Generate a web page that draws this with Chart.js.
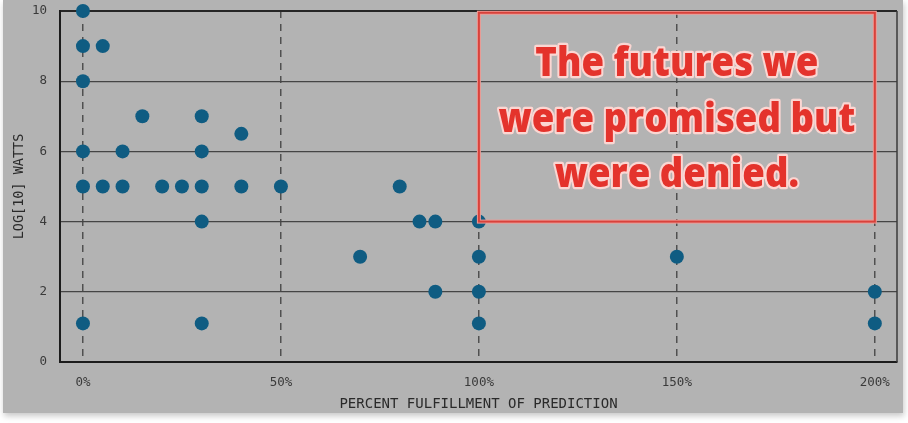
<!DOCTYPE html>
<html lang="en">
<head>
    <meta charset="UTF-8">
    <title>Percent fulfillment of prediction</title>
    <script src="https://cdn.jsdelivr.net/npm/chart.js"></script>
    <style>
        body {
            margin: 0;
            padding: 0;
            background-color: #ffffff;
        }

        .card {
            position: absolute;
            left: 3px;
            top: 0;
            width: 900px;
            height: 413px;
            background-color: #b3b3b3;
            box-shadow: 1px 3px 6px rgba(0, 0, 0, 0.22);
        }
    </style>
</head>
<body>
    <div class="card">
        <canvas id="futuresChart"></canvas>
    </div>
    <script>
        // data
        const pctFulfilled = [0, 0, 0, 0, 0, 0, 5, 5, 10, 10, 15, 20, 25, 30, 30, 30, 30, 30, 40, 40, 50, 70, 80, 85, 89, 89, 100, 100, 100, 100, 150, 200, 200];
        const log10Watts   = [10, 9, 8, 6, 5, 1.1, 9, 5, 6, 5, 7, 5, 5, 7, 6, 5, 4, 1.1, 6.5, 5, 5, 3, 5, 4, 4, 2, 4, 3, 2, 1.1, 3, 2, 1.1];

        const xTickValues = [0, 50, 100, 150, 200];
        const yTickValues = [0, 2, 4, 6, 8, 10];

        const noteLines = ['The futures we', 'were promised but', 'were denied.'];
        const noteBoxX = [100, 200];
        const noteBoxY = [4, 9.95];

        const monoFont = '"DejaVu Sans Mono", "Liberation Mono", monospace';

        // right edge of the plot frame
        const framePlugin = {
            id: 'frame',
            beforeDatasetsDraw(chart) {
                const { ctx, chartArea } = chart;
                ctx.save();
                ctx.strokeStyle = '#3a3a3a';
                ctx.lineWidth = 1.5;
                ctx.beginPath();
                ctx.moveTo(chartArea.right, chartArea.top);
                ctx.lineTo(chartArea.right, chartArea.bottom);
                ctx.stroke();
                ctx.restore();
            }
        };

        // the red box with its caption
        const notePlugin = {
            id: 'note',
            afterDatasetsDraw(chart) {
                const { ctx, scales } = chart;
                const x0 = scales.x.getPixelForValue(noteBoxX[0]);
                const x1 = scales.x.getPixelForValue(noteBoxX[1]);
                const y0 = scales.y.getPixelForValue(noteBoxY[1]);
                const y1 = scales.y.getPixelForValue(noteBoxY[0]);
                ctx.save();
                ctx.lineJoin = 'miter';
                ctx.strokeStyle = '#ee9a94';
                ctx.lineWidth = 4;
                ctx.strokeRect(x0, y0, x1 - x0, y1 - y0);
                ctx.strokeStyle = '#d8423b';
                ctx.lineWidth = 2;
                ctx.strokeRect(x0, y0, x1 - x0, y1 - y0);

                // fit the longest line to the width seen in the picture
                let size = 34;
                ctx.font = '800 ' + size + 'px "Open Sans", "DejaVu Sans", sans-serif';
                const w = ctx.measureText(noteLines[1]).width;
                size = size * 357 / w;
                ctx.font = '800 ' + size + 'px "Open Sans", "DejaVu Sans", sans-serif';
                ctx.textAlign = 'center';
                ctx.textBaseline = 'middle';
                ctx.lineJoin = 'round';
                const cx = (x0 + x1) / 2;
                const cy = (y0 + y1) / 2;
                noteLines.forEach((line, i) => {
                    const y = cy + (i - 1) * 55.5 + 3;
                    ctx.save();
                    ctx.translate(cx, y);
                    ctx.scale(1, 1.1);
                    ctx.strokeStyle = '#fbd6d2';
                    ctx.lineWidth = 4;
                    ctx.strokeText(line, 0, 0);
                    ctx.fillStyle = '#e4332c';
                    ctx.fillText(line, 0, 0);
                    ctx.restore();
                });
                ctx.restore();
            }
        };

        const ctx = document.getElementById('futuresChart').getContext('2d');
        new Chart(ctx, {
            type: 'scatter',
            data: {
                datasets: [{
                    data: pctFulfilled.map((x, i) => ({ x: x, y: log10Watts[i] })),
                    backgroundColor: '#0f5c82',
                    borderColor: '#0f5c82',
                    borderWidth: 0,
                    pointRadius: 7,
                    pointHoverRadius: 7,
                    clip: false
                }]
            },
            options: {
                responsive: true,
                maintainAspectRatio: false,
                animation: false,
                layout: {
                    autoPadding: false,
                    padding: { left: 0, top: 11, right: 6, bottom: 0 }
                },
                plugins: {
                    legend: { display: false },
                    tooltip: { enabled: false }
                },
                scales: {
                    x: {
                        type: 'linear',
                        min: -5.8,
                        max: 205.6,
                        afterBuildTicks: scale => {
                            scale.ticks = xTickValues.map(v => ({ value: v }));
                        },
                        afterFit: scale => {
                            scale.height = 51;
                            scale.paddingLeft = 0;
                            scale.paddingRight = 0;
                        },
                        grid: {
                            color: '#505050',
                            lineWidth: 1.5,
                            drawTicks: false
                        },
                        border: {
                            display: true,
                            color: '#1c1c1c',
                            width: 2,
                            dash: [7, 6]
                        },
                        ticks: {
                            padding: 13,
                            color: '#3a3a3a',
                            font: { family: monoFont, size: 12.5 },
                            callback: v => v + '%'
                        },
                        title: {
                            display: true,
                            text: 'PERCENT FULFILLMENT OF PREDICTION',
                            color: '#2a2a2a',
                            font: { family: monoFont, size: 14 },
                            padding: { top: 0, bottom: 0 }
                        }
                    },
                    y: {
                        min: 0,
                        max: 10,
                        afterBuildTicks: scale => {
                            scale.ticks = yTickValues.map(v => ({ value: v }));
                        },
                        afterFit: scale => {
                            scale.width = 57;
                            scale.paddingTop = 0;
                            scale.paddingBottom = 0;
                        },
                        grid: {
                            color: c => c.tick && c.tick.value === 10 ? '#262626' : '#454545',
                            lineWidth: c => c.tick && c.tick.value === 10 ? 2 : 1.2,
                            drawTicks: false
                        },
                        border: {
                            display: true,
                            color: '#1c1c1c',
                            width: 2
                        },
                        ticks: {
                            padding: 13,
                            color: '#3a3a3a',
                            font: { family: monoFont, size: 12.5 }
                        },
                        title: {
                            display: true,
                            text: 'LOG[10] WATTS',
                            color: '#2a2a2a',
                            font: { family: monoFont, size: 13.5 },
                            padding: { top: 8, bottom: 0 }
                        }
                    }
                }
            },
            plugins: [framePlugin, notePlugin]
        });
    </script>
</body>
</html>
